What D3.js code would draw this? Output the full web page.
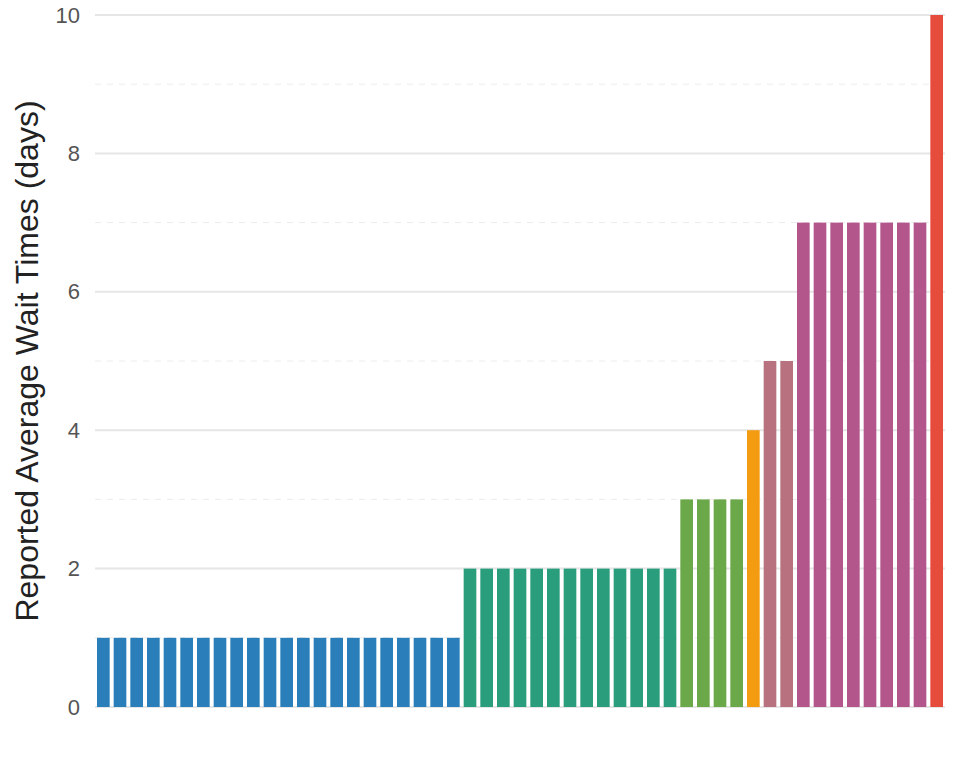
<!DOCTYPE html>
<html>
<head>
<meta charset="utf-8">
<script src="https://cdn.jsdelivr.net/npm/d3@7"></script>
<style>
  body { margin: 0; background: #fff; font-family: "Liberation Sans", Arial, sans-serif; }
</style>
</head>
<body>
<div class="container"></div>
<script>
// wait time groups (days) and how many reports fall in each
var groupDays = [1, 2, 3, 4, 5, 7, 10];
var groupCounts = [22, 13, 4, 1, 2, 8, 1];
var groupColors = ["#2a7fba", "#2a9d7c", "#6aa84a", "#f39c12", "#b8727f", "#b3568c", "#e64c3c"];
var yTicks = [0, 2, 4, 6, 8, 10];
var yMinorTicks = [1, 3, 5, 7, 9];

const WIDTH = 959;
const HEIGHT = 766;
const MARGIN = {top: 15, right: 14, bottom: 59, left: 95};

var data = [];
groupDays.forEach(function(d, g){
  for (var i = 0; i < groupCounts[g]; i++){
    data.push({id: data.length, value: d, group: g});
  }
});

var translate = function(x, y){
  return "translate(" + x + "," + y + ")";
};

var xScale = d3.scaleBand()
  .domain(data.map(function(d){ return d.id; }))
  .range([MARGIN.left, WIDTH - MARGIN.right])
  .paddingInner(0.24)
  .paddingOuter(0.12);

var yScale = d3.scaleLinear()
  .domain([0, 10])
  .range([HEIGHT - MARGIN.bottom, MARGIN.top]);

var svg = d3.select(".container").append("svg")
  .attr("width", WIDTH)
  .attr("height", HEIGHT);

// grid
svg.append("g").selectAll("line.major").data(yTicks).enter().append("line")
  .attr("x1", MARGIN.left).attr("x2", WIDTH - MARGIN.right)
  .attr("y1", function(d){ return yScale(d); })
  .attr("y2", function(d){ return yScale(d); })
  .attr("stroke", "#e6e6e6").attr("stroke-width", 2);

svg.append("g").selectAll("line.minor").data(yMinorTicks).enter().append("line")
  .attr("x1", MARGIN.left).attr("x2", WIDTH - MARGIN.right)
  .attr("y1", function(d){ return yScale(d); })
  .attr("y2", function(d){ return yScale(d); })
  .attr("stroke", "#ececec").attr("stroke-width", 1)
  .attr("stroke-dasharray", "6,6");

// y axis labels
var yAxis = d3.axisLeft(yScale).tickValues(yTicks).tickSize(0).tickPadding(15);
var yg = svg.append("g")
  .attr("transform", translate(MARGIN.left, 0))
  .call(yAxis);
yg.select(".domain").remove();
yg.selectAll("text")
  .attr("font-size", 22)
  .attr("font-family", "Liberation Sans, Arial, sans-serif")
  .attr("fill", "#555");

// bars
svg.append("g").selectAll("rect").data(data).enter().append("rect")
  .attr("x", function(d){ return xScale(d.id); })
  .attr("y", function(d){ return yScale(d.value); })
  .attr("width", xScale.bandwidth())
  .attr("height", function(d){ return yScale(0) - yScale(d.value); })
  .attr("fill", function(d){ return groupColors[d.group]; });

// axis title
svg.append("text")
  .attr("transform", translate(38, 361) + " rotate(-90)")
  .attr("text-anchor", "middle")
  .attr("font-size", 32)
  .attr("fill", "#222")
  .text("Reported Average Wait Times (days)");
</script>
</body>
</html>
